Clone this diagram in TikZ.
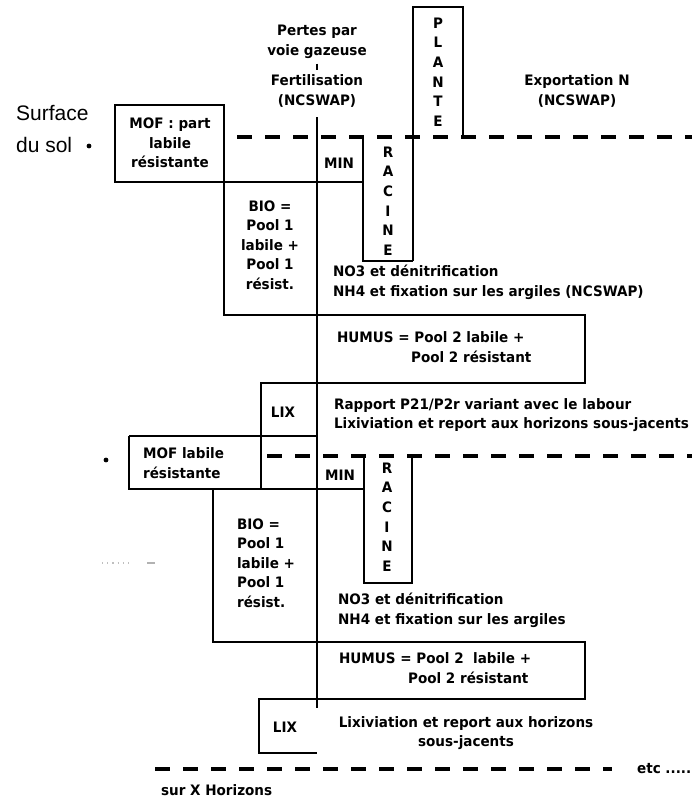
\documentclass[tikz,border=0pt]{standalone}
\usepackage{fontspec}
\newfontfamily\labfont[FakeStretch=0.94]{DejaVu Sans}
\newfontfamily\solfont{Liberation Sans}

\begin{document}
\begin{tikzpicture}[x=0.5pt, y=-0.5pt, line width=1.1pt,
  lbl/.style={font=\labfont\bfseries\fontsize{7.2}{9.8}\selectfont, inner sep=0pt},
  sol/.style={line width=2.2pt, dash pattern=on 7.5pt off 6.5pt},
  big/.style={font=\solfont\fontsize{10.5}{12}\selectfont, inner sep=0pt, anchor=west}]

\useasboundingbox (0,0) rectangle (692,799);

% -------- surface du sol -----------
\node[big] (surf)  at (15,113) {Surface};
\node[big] (dusol) at (15,145) {du sol};
\fill (89,146) circle (2.4);
\draw[sol] (237,137) -- (692,137);

\node[lbl, align=center] (pertes) at (317,42) {Pertes par\\voie gazeuse};
\node[lbl, align=center] (fert)   at (317,91) {Fertilisation\\(NCSWAP)};
\draw[line width=0.9pt, shorten <=2pt, shorten >=2pt] (pertes.south) -- (fert.north);
\node[lbl, align=center] (export) at (577,91) {Exportation N\\(NCSWAP)};

% -------- horizon 1 -----------
\draw (317,117) -- (317,708);
\draw (115,105) rectangle (224,182);
\draw (224,182) -- (363,182);
\draw (413,261) -- (413,7) -- (463,7) -- (463,137);
\draw (363,137) -- (363,261) -- (413,261);
\draw (224,182) -- (224,315) -- (585,315) -- (585,383) -- (261,383) -- (261,489);
\draw (129,436) -- (317,436);

\node[lbl, align=center] (mof1)    at (170,143) {MOF : part\\labile\\résistante};
\node[lbl]               (min1)    at (339,163) {MIN};
\node[lbl, align=center] (plante)  at (438,72)  {P\\L\\A\\N\\T\\E};
\node[lbl, align=center] (racine1) at (388,201) {R\\A\\C\\I\\N\\E};
\node[lbl, align=center] (bio1)    at (270,245) {BIO =\\Pool 1\\labile +\\Pool 1\\résist.};
\node[lbl, align=left, anchor=west] (azote1) at (332,282)
  {NO3 et dénitrification\\NH4 et fixation sur les argiles (NCSWAP)};
\node[lbl, anchor=west] (humus1a) at (336,337) {HUMUS = Pool 2 labile +};
\node[lbl, anchor=west] (humus1b) at (410,357) {Pool 2 résistant};
\node[lbl]               (lix1)    at (283,412) {LIX};
\node[lbl, align=left, anchor=west] (report1) at (333,415)
  {Rapport P21/P2r variant avec le labour\\Lixiviation et report aux horizons sous-jacents};

% -------- horizon 2 -----------
\draw[sol] (267,456) -- (692,456);
\fill (106,460) circle (2.4);
\draw[gray!50, line width=0.6pt, dotted] (102,563) -- (132,563);
\draw[gray!60, line width=0.6pt] (147,563) -- (155,563);
\draw (129,436) -- (129,489) -- (364,489);
\draw (364,456) -- (364,583) -- (412,583) -- (412,456);
\draw (213,489) -- (213,642) -- (585,642) -- (585,699) -- (259,699) -- (259,753) -- (317,753);

\node[lbl, align=left, anchor=west] (mof2) at (142,463) {MOF labile\\résistante};
\node[lbl]               (min2)    at (340,475) {MIN};
\node[lbl, align=center] (racine2) at (387,517) {R\\A\\C\\I\\N\\E};
\node[lbl, align=left, anchor=west] (bio2) at (236,563) {BIO =\\Pool 1\\labile +\\Pool 1\\résist.};
\node[lbl, align=left, anchor=west] (azote2) at (337,610)
  {NO3 et dénitrification\\NH4 et fixation sur les argiles};
\node[lbl, anchor=west] (humus2a) at (338,658) {HUMUS = Pool 2\ \ labile +};
\node[lbl, anchor=west] (humus2b) at (407,678) {Pool 2 résistant};
\node[lbl]               (lix2)    at (285,727) {LIX};
\node[lbl, align=center] (report2) at (466,733) {Lixiviation et report aux horizons\\sous-jacents};

% -------- horizons suivants -----------
\draw[sol] (155,769) -- (612,769);
\node[lbl, anchor=west] (etc)  at (636,769) {etc .....};
\node[lbl, anchor=west] (surx) at (160,790) {sur X Horizons};

\end{tikzpicture}
\end{document}
